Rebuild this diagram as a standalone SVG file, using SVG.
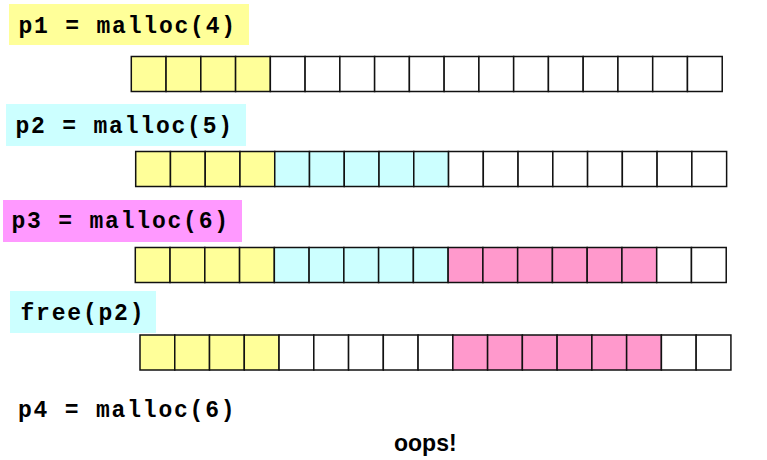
<svg xmlns="http://www.w3.org/2000/svg" width="767" height="460" viewBox="0 0 767 460">
<style>
.lbl{font-family:"Courier New","Liberation Mono",monospace;font-weight:bold;font-size:23px;letter-spacing:1.8px;fill:#000}
.cell{stroke:#111;stroke-width:1.5}
.y{fill:#FFFF99}.c{fill:#CCFFFF}.p{fill:#FF99CC}.w{fill:#FFFFFF}
.oops{font-family:"Liberation Sans",Arial,sans-serif;font-weight:bold;font-size:23px;fill:#000}
</style>
<g id="label-p1"><rect x="9" y="4" width="240" height="41" fill="#FFFF99"/><text class="lbl" x="18.5" y="33">p1 = malloc(4)</text></g>
<g id="row1" transform="translate(131.3,56.5)">
<rect class="cell y" x="0" y="0" width="34.76" height="35"/><rect class="cell y" x="34.76" y="0" width="34.76" height="35"/><rect class="cell y" x="69.52" y="0" width="34.76" height="35"/><rect class="cell y" x="104.28" y="0" width="34.76" height="35"/><rect class="cell w" x="139.04" y="0" width="34.76" height="35"/><rect class="cell w" x="173.8" y="0" width="34.76" height="35"/><rect class="cell w" x="208.56" y="0" width="34.76" height="35"/><rect class="cell w" x="243.32" y="0" width="34.76" height="35"/><rect class="cell w" x="278.08" y="0" width="34.76" height="35"/><rect class="cell w" x="312.84" y="0" width="34.76" height="35"/><rect class="cell w" x="347.6" y="0" width="34.76" height="35"/><rect class="cell w" x="382.36" y="0" width="34.76" height="35"/><rect class="cell w" x="417.12" y="0" width="34.76" height="35"/><rect class="cell w" x="451.88" y="0" width="34.76" height="35"/><rect class="cell w" x="486.64" y="0" width="34.76" height="35"/><rect class="cell w" x="521.4" y="0" width="34.76" height="35"/><rect class="cell w" x="556.16" y="0" width="34.76" height="35"/>
</g>
<g id="label-p2"><rect x="6" y="104" width="240" height="42" fill="#CCFFFF"/><text class="lbl" x="15.5" y="133">p2 = malloc(5)</text></g>
<g id="row2" transform="translate(135.7,151.5)">
<rect class="cell y" x="0" y="0" width="34.76" height="35"/><rect class="cell y" x="34.76" y="0" width="34.76" height="35"/><rect class="cell y" x="69.52" y="0" width="34.76" height="35"/><rect class="cell y" x="104.28" y="0" width="34.76" height="35"/><rect class="cell c" x="139.04" y="0" width="34.76" height="35"/><rect class="cell c" x="173.8" y="0" width="34.76" height="35"/><rect class="cell c" x="208.56" y="0" width="34.76" height="35"/><rect class="cell c" x="243.32" y="0" width="34.76" height="35"/><rect class="cell c" x="278.08" y="0" width="34.76" height="35"/><rect class="cell w" x="312.84" y="0" width="34.76" height="35"/><rect class="cell w" x="347.6" y="0" width="34.76" height="35"/><rect class="cell w" x="382.36" y="0" width="34.76" height="35"/><rect class="cell w" x="417.12" y="0" width="34.76" height="35"/><rect class="cell w" x="451.88" y="0" width="34.76" height="35"/><rect class="cell w" x="486.64" y="0" width="34.76" height="35"/><rect class="cell w" x="521.4" y="0" width="34.76" height="35"/><rect class="cell w" x="556.16" y="0" width="34.76" height="35"/>
</g>
<g id="label-p3"><rect x="3" y="200" width="239" height="42" fill="#FF99FF"/><text class="lbl" x="11.5" y="228">p3 = malloc(6)</text></g>
<g id="row3" transform="translate(135.3,247.5)">
<rect class="cell y" x="0" y="0" width="34.76" height="35"/><rect class="cell y" x="34.76" y="0" width="34.76" height="35"/><rect class="cell y" x="69.52" y="0" width="34.76" height="35"/><rect class="cell y" x="104.28" y="0" width="34.76" height="35"/><rect class="cell c" x="139.04" y="0" width="34.76" height="35"/><rect class="cell c" x="173.8" y="0" width="34.76" height="35"/><rect class="cell c" x="208.56" y="0" width="34.76" height="35"/><rect class="cell c" x="243.32" y="0" width="34.76" height="35"/><rect class="cell c" x="278.08" y="0" width="34.76" height="35"/><rect class="cell p" x="312.84" y="0" width="34.76" height="35"/><rect class="cell p" x="347.6" y="0" width="34.76" height="35"/><rect class="cell p" x="382.36" y="0" width="34.76" height="35"/><rect class="cell p" x="417.12" y="0" width="34.76" height="35"/><rect class="cell p" x="451.88" y="0" width="34.76" height="35"/><rect class="cell p" x="486.64" y="0" width="34.76" height="35"/><rect class="cell w" x="521.4" y="0" width="34.76" height="35"/><rect class="cell w" x="556.16" y="0" width="34.76" height="35"/>
</g>
<g id="label-free"><rect x="10" y="291" width="146" height="42" fill="#CCFFFF"/><text class="lbl" x="20.5" y="320">free(p2)</text></g>
<g id="row4" transform="translate(140,335)">
<rect class="cell y" x="0" y="0" width="34.76" height="35"/><rect class="cell y" x="34.76" y="0" width="34.76" height="35"/><rect class="cell y" x="69.52" y="0" width="34.76" height="35"/><rect class="cell y" x="104.28" y="0" width="34.76" height="35"/><rect class="cell w" x="139.04" y="0" width="34.76" height="35"/><rect class="cell w" x="173.8" y="0" width="34.76" height="35"/><rect class="cell w" x="208.56" y="0" width="34.76" height="35"/><rect class="cell w" x="243.32" y="0" width="34.76" height="35"/><rect class="cell w" x="278.08" y="0" width="34.76" height="35"/><rect class="cell p" x="312.84" y="0" width="34.76" height="35"/><rect class="cell p" x="347.6" y="0" width="34.76" height="35"/><rect class="cell p" x="382.36" y="0" width="34.76" height="35"/><rect class="cell p" x="417.12" y="0" width="34.76" height="35"/><rect class="cell p" x="451.88" y="0" width="34.76" height="35"/><rect class="cell p" x="486.64" y="0" width="34.76" height="35"/><rect class="cell w" x="521.4" y="0" width="34.76" height="35"/><rect class="cell w" x="556.16" y="0" width="34.76" height="35"/>
</g>
<g id="label-p4"><text class="lbl" x="18" y="416.5">p4 = malloc(6)</text></g>
<g id="label-oops"><text class="oops" x="394" y="451">oops!</text></g>
</svg>
